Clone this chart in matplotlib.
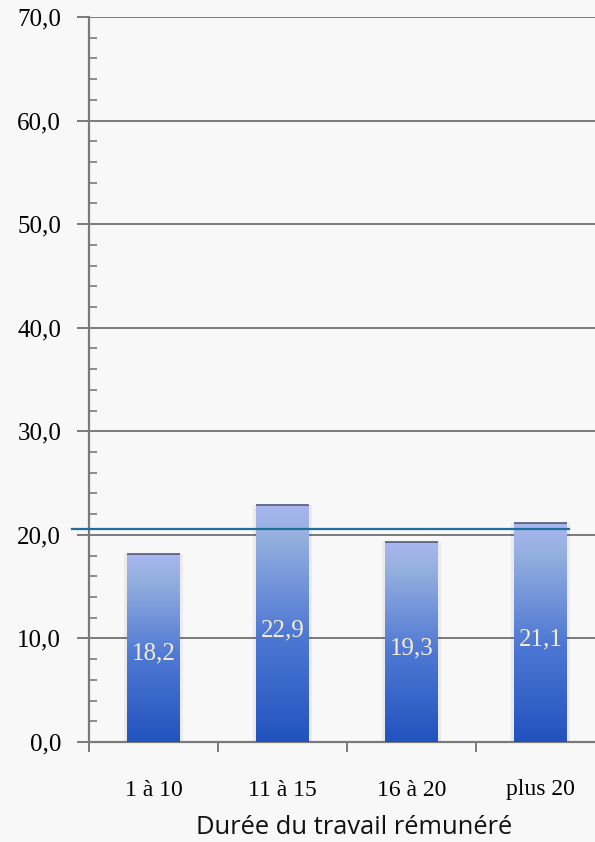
import numpy as np
import matplotlib
matplotlib.use("Agg")
import matplotlib.pyplot as plt
from matplotlib.colors import LinearSegmentedColormap
from matplotlib.ticker import MultipleLocator, FixedLocator, FuncFormatter

categories = ["1 à 10", "11 à 15", "16 à 20", "plus 20"]
values = [18.2, 22.9, 19.3, 21.1]
value_labels = ["18,2", "22,9", "19,3", "21,1"]
moyenne = 20.6
xlabel = "Durée du travail rémunéré"

fig = plt.figure(figsize=(5.95, 8.42), dpi=100)
fig.patch.set_facecolor("#f8f8f8")
ax = fig.add_axes([89/595, 1-742/842, (605-89)/595, (742-17)/842])
ax.set_facecolor("#f8f8f8")

x = np.arange(len(categories))
ax.set_xlim(-0.5, len(categories) - 0.5)
ax.set_ylim(0, 70)

grad_cmap = LinearSegmentedColormap.from_list(
    "g", [(0.0, "#2153be"), (0.45, "#4f78d4"), (0.72, "#7d9cdc"), (0.86, "#93b0de"), (1.0, "#aab6f0")])
grad = np.linspace(0, 1, 256).reshape(-1, 1)
bw = 0.41
bars = ax.bar(x, values, width=bw, color="none", zorder=3)
for b, v, lab in zip(bars, values, value_labels):
    x0 = b.get_x()
    # soft shadow
    ax.bar(b.get_x() + bw/2, v, width=bw + 0.04, color="#000000", alpha=0.05, zorder=2)
    im = ax.imshow(grad, cmap=grad_cmap, origin="lower", aspect="auto",
                   extent=[x0, x0 + bw, 0, v], zorder=3)
    im.set_clip_path(b)
    ax.plot([x0, x0 + bw], [v, v], color="#505a78", lw=1.2, zorder=4, solid_capstyle="butt")
    ax.text(b.get_x() + bw/2, v*0.47, lab, ha="center", va="center",
            color="#f4efd2", fontsize=18, family="Liberation Serif", zorder=5)

ax.set_xlim(-0.5, len(categories) - 0.5)
ax.set_ylim(0, 70)

# grid
ax.yaxis.set_major_locator(MultipleLocator(10))
ax.yaxis.set_minor_locator(MultipleLocator(2))
ax.yaxis.set_major_formatter(FuncFormatter(lambda v, p: f"{v:.1f}".replace(".", ",")))
ax.grid(axis="y", which="major", color="#7a7a7a", lw=1.4, zorder=1)
ax.set_axisbelow(True)

ax.tick_params(axis="y", which="major", direction="out", length=9, width=1.4,
               color="#7a7a7a", pad=11, labelsize=18)
ax.tick_params(axis="y", which="minor", direction="in", length=6, width=1.2, color="#7a7a7a")
for t in ax.get_yticklabels():
    t.set_family("Liberation Serif")

ax.xaxis.set_major_locator(FixedLocator(np.arange(-0.5, len(categories), 1.0)))
ax.xaxis.set_major_formatter(FuncFormatter(lambda v, p: ""))
ax.xaxis.set_minor_locator(FixedLocator(x))
ax.set_xticklabels(categories, minor=True)
ax.tick_params(axis="x", which="major", direction="out", length=7, width=1.4, color="#7a7a7a")
ax.tick_params(axis="x", which="minor", length=0, pad=27, labelsize=17)
for t in ax.get_xticklabels(minor=True):
    t.set_family("Liberation Serif")

for s in ["top", "right"]:
    ax.spines[s].set_visible(False)
for s in ["left", "bottom"]:
    ax.spines[s].set_color("#7a7a7a")
    ax.spines[s].set_linewidth(1.6)

# average line
ax.plot([-0.632, 3.22], [moyenne, moyenne], color="#1f6f9a", lw=1.6, zorder=6, clip_on=False)

fig.text(354/595, 1-828/842, xlabel, ha="center", va="center", fontsize=18.4, family="Open Sans", color="#111111")

fig.savefig("out.png", dpi=100, facecolor=fig.get_facecolor())
